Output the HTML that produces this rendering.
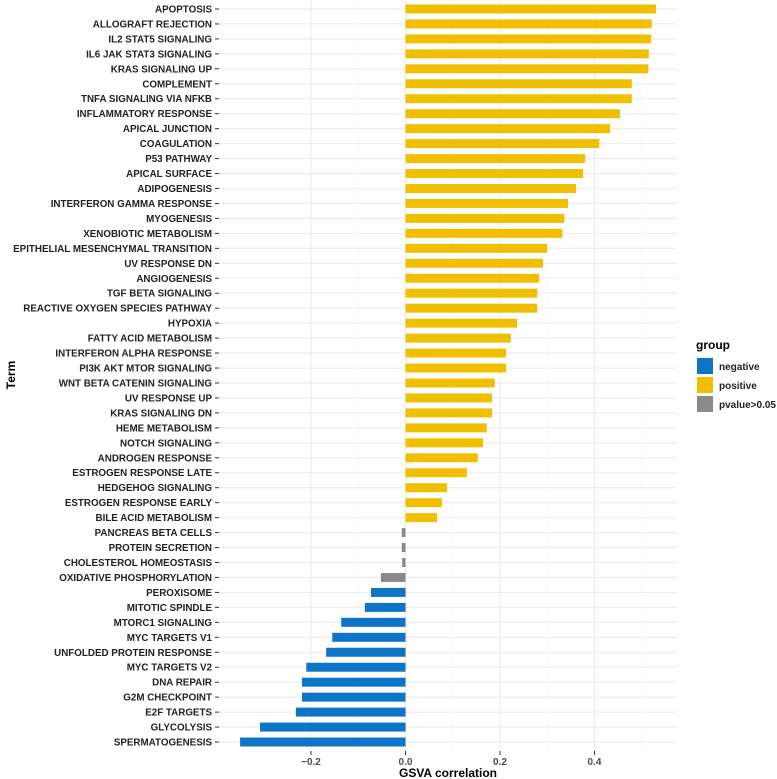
<!DOCTYPE html>
<html><head><meta charset="utf-8"><style>
body{margin:0;background:#fff;}
svg{display:block;font-family:"Liberation Sans",Arial,sans-serif;}
</style></head><body>
<svg id="chart" width="777" height="779"></svg>
<script>
const terms=["APOPTOSIS","ALLOGRAFT REJECTION","IL2 STAT5 SIGNALING","IL6 JAK STAT3 SIGNALING","KRAS SIGNALING UP","COMPLEMENT","TNFA SIGNALING VIA NFKB","INFLAMMATORY RESPONSE","APICAL JUNCTION","COAGULATION","P53 PATHWAY","APICAL SURFACE","ADIPOGENESIS","INTERFERON GAMMA RESPONSE","MYOGENESIS","XENOBIOTIC METABOLISM","EPITHELIAL MESENCHYMAL TRANSITION","UV RESPONSE DN","ANGIOGENESIS","TGF BETA SIGNALING","REACTIVE OXYGEN SPECIES PATHWAY","HYPOXIA","FATTY ACID METABOLISM","INTERFERON ALPHA RESPONSE","PI3K AKT MTOR SIGNALING","WNT BETA CATENIN SIGNALING","UV RESPONSE UP","KRAS SIGNALING DN","HEME METABOLISM","NOTCH SIGNALING","ANDROGEN RESPONSE","ESTROGEN RESPONSE LATE","HEDGEHOG SIGNALING","ESTROGEN RESPONSE EARLY","BILE ACID METABOLISM","PANCREAS BETA CELLS","PROTEIN SECRETION","CHOLESTEROL HOMEOSTASIS","OXIDATIVE PHOSPHORYLATION","PEROXISOME","MITOTIC SPINDLE","MTORC1 SIGNALING","MYC TARGETS V1","UNFOLDED PROTEIN RESPONSE","MYC TARGETS V2","DNA REPAIR","G2M CHECKPOINT","E2F TARGETS","GLYCOLYSIS","SPERMATOGENESIS"];
const values=[0.530,0.521,0.520,0.515,0.514,0.479,0.479,0.454,0.433,0.41,0.38,0.376,0.361,0.344,0.336,0.332,0.30,0.291,0.283,0.279,0.279,0.236,0.223,0.213,0.213,0.189,0.183,0.183,0.172,0.164,0.153,0.130,0.088,0.077,0.067,-0.008,-0.008,-0.007,-0.052,-0.073,-0.086,-0.136,-0.155,-0.168,-0.21,-0.219,-0.219,-0.232,-0.308,-0.35];
const groups=["positive","positive","positive","positive","positive","positive","positive","positive","positive","positive","positive","positive","positive","positive","positive","positive","positive","positive","positive","positive","positive","positive","positive","positive","positive","positive","positive","positive","positive","positive","positive","positive","positive","positive","positive","pvalue>0.05","pvalue>0.05","pvalue>0.05","pvalue>0.05","negative","negative","negative","negative","negative","negative","negative","negative","negative","negative","negative"];
const xTicks=[-0.2,0.0,0.2,0.4];
const xTickLabels=["\u22120.2","0.0","0.2","0.4"];
const legendGroups=["negative","positive","pvalue>0.05"];

const colors={"negative":"#0d74c8","positive":"#f0c000","pvalue>0.05":"#8a8a8a"};
const NS="http://www.w3.org/2000/svg";
const svg=document.getElementById('chart');
const L=219,R=677,T=0,B=751;
const x0=405.5,xs=472.5;
const X=v=>x0+v*xs;
const step=(B-T)/(terms.length-1+1.2);
const Y=i=>T+step*(0.6+i);
function mk(tag,attrs,parent){const e=document.createElementNS(NS,tag);for(const k in attrs)e.setAttribute(k,attrs[k]);(parent||svg).appendChild(e);return e;}

const grid=mk('g',{});


for(let k=0;k<xTicks.length-1;k++){const v=(xTicks[k]+xTicks[k+1])/2;mk('line',{x1:X(v),x2:X(v),y1:T,y2:B,stroke:'#f2f2f2','stroke-width':0.6},grid);}
{const v=xTicks[xTicks.length-1]+0.1;if(X(v)<R)mk('line',{x1:X(v),x2:X(v),y1:T,y2:B,stroke:'#f2f2f2','stroke-width':0.6},grid);}
xTicks.forEach(v=>mk('line',{x1:X(v),x2:X(v),y1:T,y2:B,stroke:'#ebebeb','stroke-width':1.1},grid));
terms.forEach((t,i)=>mk('line',{x1:L,x2:R,y1:Y(i),y2:Y(i),stroke:'#ebebeb','stroke-width':1.1},grid));

const bars=mk('g',{});


const bh=step*0.6;
terms.forEach((t,i)=>{
  const v=values[i];
  const r=mk('rect',{x:Math.min(X(0),X(v)),y:Y(i)-bh/2,width:Math.abs(X(v)-X(0)),height:bh,fill:colors[groups[i]]},bars);
  
  
  const lab=mk('text',{x:L-7,y:Y(i)+3.5,'text-anchor':'end','font-size':'9.8px','font-weight':'bold',fill:'#222'});
  lab.textContent=t;
  
  
  mk('line',{x1:L-4,x2:L,y1:Y(i),y2:Y(i),stroke:'#333','stroke-width':1});
});
xTicks.forEach((v,k)=>{
  mk('line',{x1:X(v),x2:X(v),y1:B,y2:B+4,stroke:'#333','stroke-width':1});
  const tl=mk('text',{x:X(v),y:B+14,'text-anchor':'middle','font-size':'10px','font-weight':'bold',fill:'#4d4d4d'});
  tl.textContent=xTickLabels[k];
  
  
});
const xt=mk('text',{x:(L+R)/2,y:777,'text-anchor':'middle','font-size':'12px','font-weight':'bold',fill:'#000'});
xt.textContent='GSVA correlation';


const yt=mk('text',{x:0,y:0,transform:'translate(15,375) rotate(-90)','text-anchor':'middle','font-size':'12px','font-weight':'bold',fill:'#000'});
yt.textContent='Term';



const lg=mk('g',{});


const lt=mk('text',{x:696,y:349,'font-size':'12px','font-weight':'bold',fill:'#000'},lg);
lt.textContent='group';


legendGroups.forEach((g,k)=>{
  const y=358+k*19;
  const r=mk('rect',{x:697,y:y,width:16,height:16,fill:colors[g]},lg);
  
  
  const t=mk('text',{x:719,y:y+12,'font-size':'10px','font-weight':'bold',fill:'#222'},lg);
  t.textContent=g;
  
  
});
</script>
</body></html>
